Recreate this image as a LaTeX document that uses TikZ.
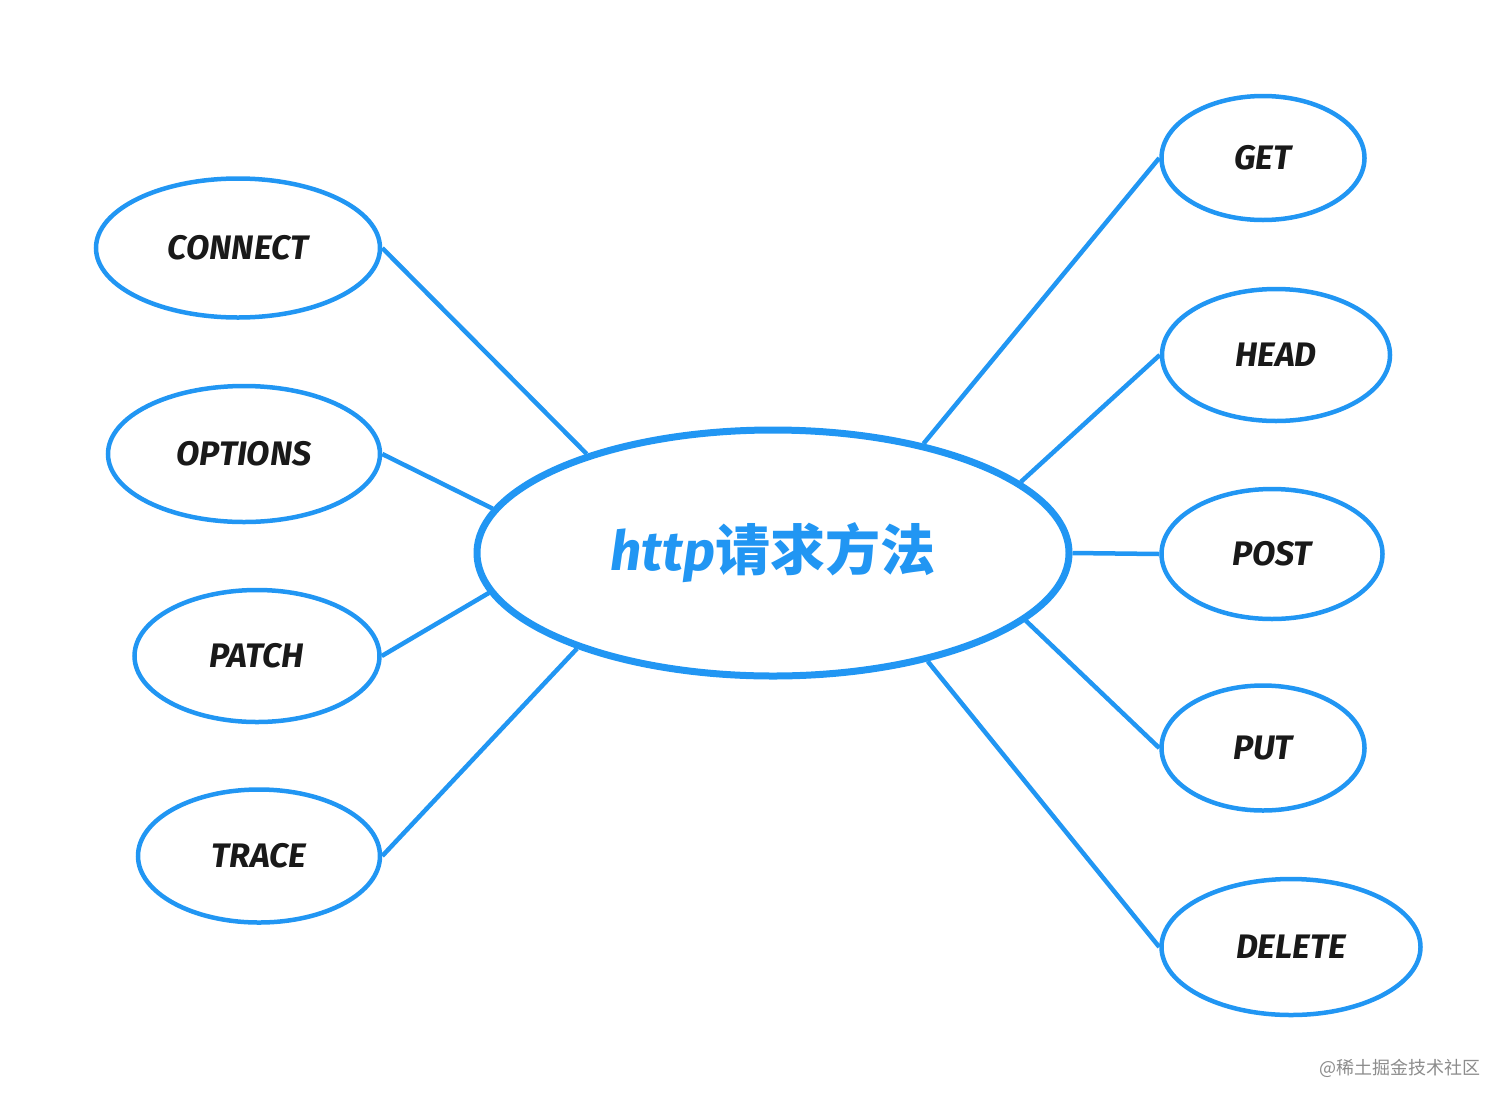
\documentclass[tikz,border=0pt]{standalone}
\usepackage{fontspec}
\setmainfont{Fira Sans}
\newfontfamily\cjk{Noto Sans CJK SC}
\usepackage{tikz}
\usetikzlibrary{shapes.geometric}
\definecolor{linkblue}{RGB}{33,150,243}

\begin{document}
\begin{tikzpicture}
  [
    x=1pt, y=-1pt,
    Method/.style={ellipse, draw=linkblue, line width=4.5pt, inner sep=0pt, text=black!90,
      font=\fontsize{34}{40}\selectfont\bfseries\itshape},
    Hub/.style={ellipse, draw=linkblue, line width=7pt, inner sep=0pt, text=linkblue,
      minimum width=592pt, minimum height=246pt, font=\fontsize{55}{60}\selectfont},
    Link/.style={draw=linkblue, line width=4.5pt}
  ]
  \useasboundingbox (0,0) rectangle (1512,1106);
  % Nodes
  \node[Hub] (hub) at(773, 553) {{\bfseries\itshape http}{\cjk\bfseries 请求方法}};
  \node[Method, minimum width=284pt, minimum height=139pt] (connect) at(238, 248) {CONNECT};
  \node[Method, minimum width=272pt, minimum height=136pt] (options) at(244, 454) {OPTIONS};
  \node[Method, minimum width=245pt, minimum height=132pt] (patch) at(257, 656) {PATCH};
  \node[Method, minimum width=242pt, minimum height=133pt] (trace) at(259, 856) {TRACE};
  \node[Method, minimum width=203pt, minimum height=124pt] (get) at(1263, 158) {GET};
  \node[Method, minimum width=228pt, minimum height=132pt] (head) at(1276, 355) {HEAD};
  \node[Method, minimum width=221pt, minimum height=130pt] (post) at(1272, 554) {POST};
  \node[Method, minimum width=203pt, minimum height=125pt] (put) at(1263, 748) {PUT};
  \node[Method, minimum width=259pt, minimum height=136pt] (delete) at(1291, 947) {DELETE};
  \node[font=\cjk\fontsize{18}{20}\selectfont, text=black!45, anchor=east] (mark) at(1484, 1068) {@稀土掘金技术社区};
  % Lines
  \path [Link] (connect.east) -- (hub.152.7);
  \path [Link] (options.east) -- (hub.171);
  \path [Link] (patch.east) -- (hub.188.6);
  \path [Link] (trace.east) -- (hub.206.7);
  \path [Link] (get.west) -- (hub.36.9);
  \path [Link] (head.west) -- (hub.16.3);
  \path [Link] (post.west) -- (hub.0.5);
  \path [Link] (put.west) -- (hub.-15.8);
  \path [Link] (delete.west) -- (hub.-35.5);
\end{tikzpicture}
\end{document}
